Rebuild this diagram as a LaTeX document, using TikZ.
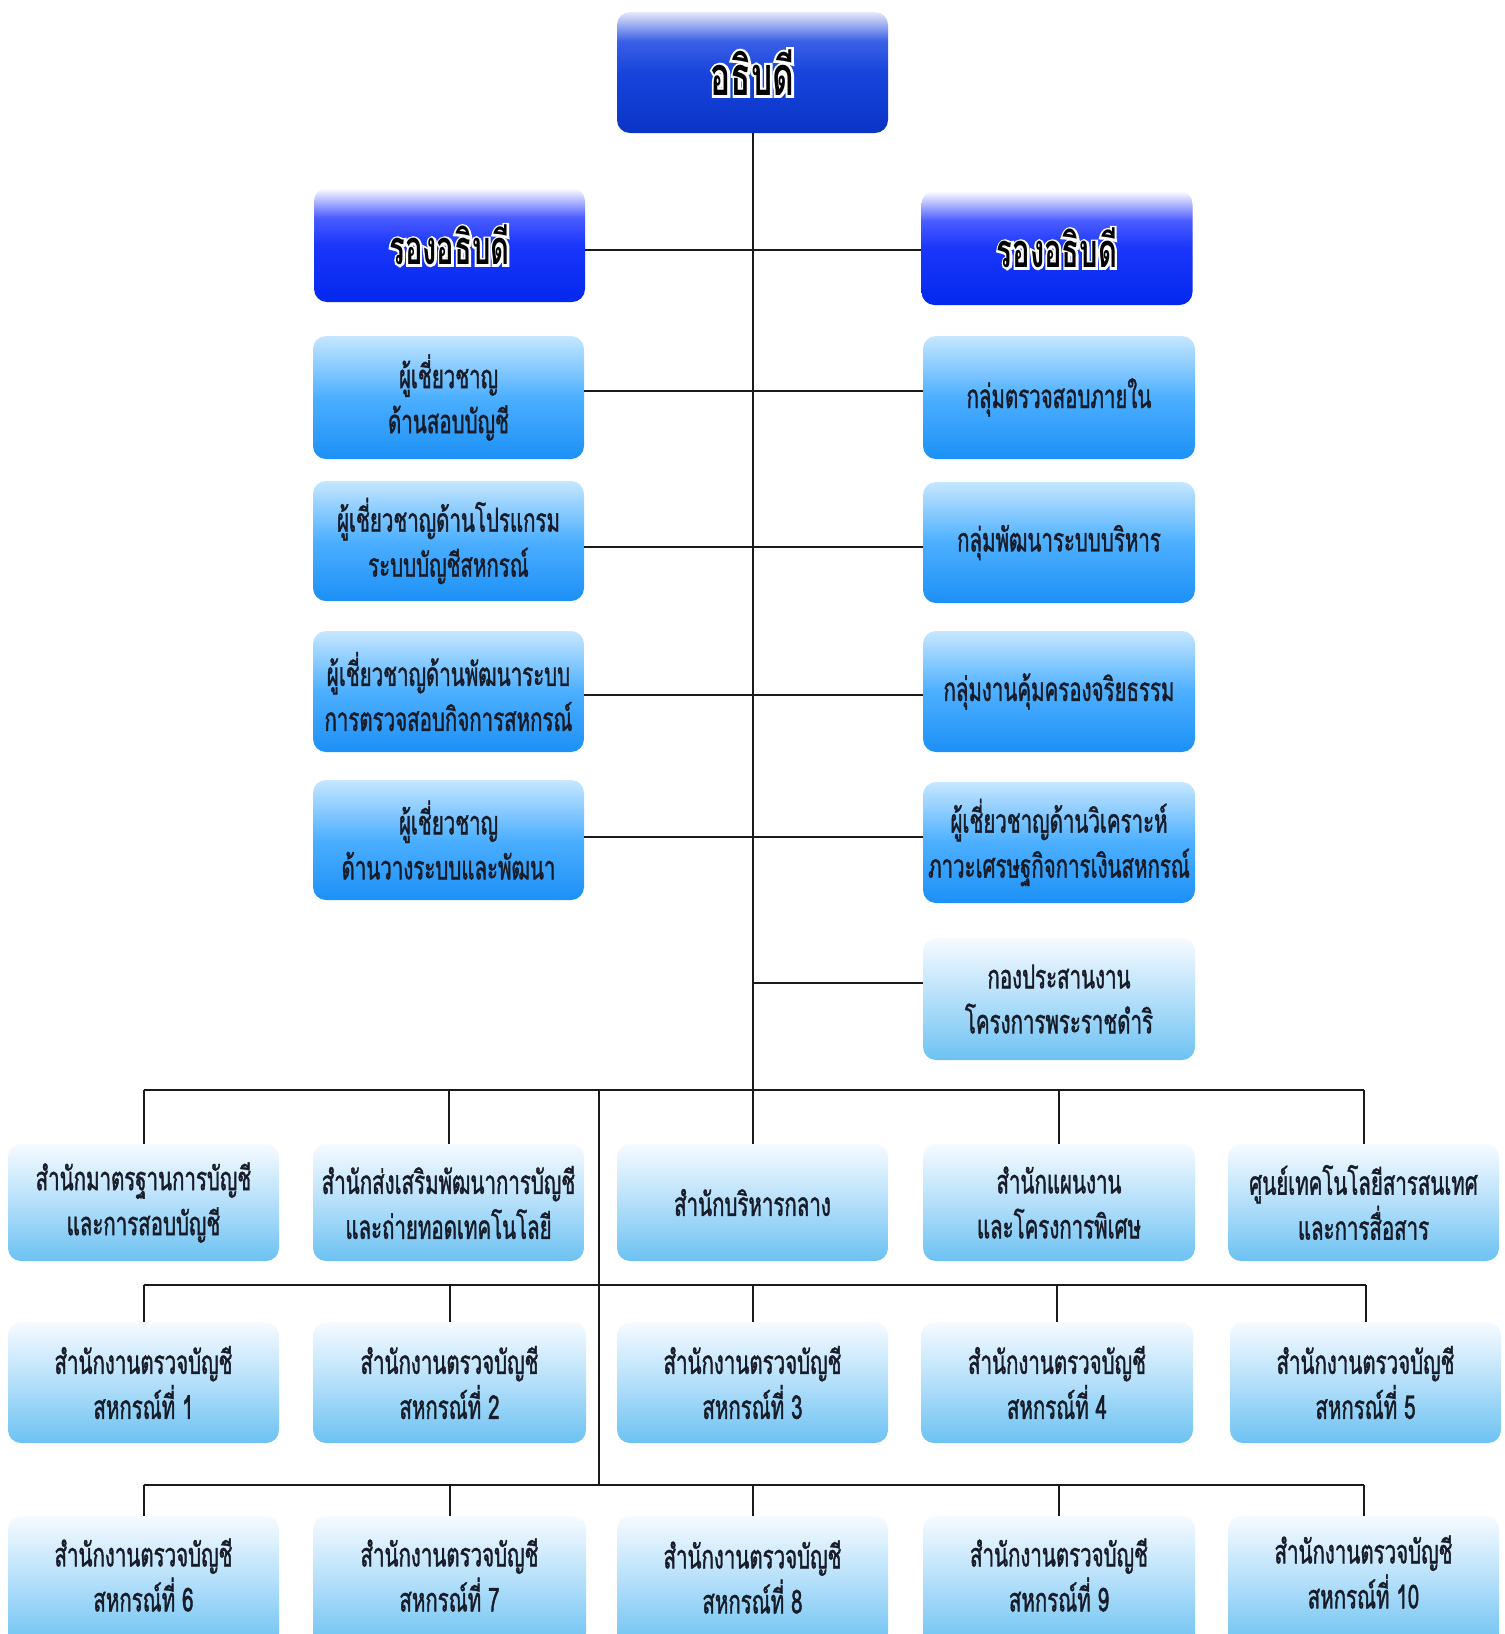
\documentclass[tikz,border=0pt]{standalone}
\usepackage{fontspec}
\newfontfamily\thai[Script=Thai,FakeStretch=0.62,FakeBold=1.2]{Loma}
\newfontfamily\thaihead[Script=Thai,FakeStretch=0.62]{Loma}
\usetikzlibrary{calc}

\definecolor{tTop}{HTML}{E6EAFA}
\definecolor{tHi}{HTML}{3A60E6}
\definecolor{tMid}{HTML}{1844DC}
\definecolor{tBot}{HTML}{0A34C6}
\definecolor{vTop}{HTML}{FFFFFF}
\definecolor{vHi}{HTML}{4A5CFF}
\definecolor{vMid}{HTML}{1A36FA}
\definecolor{vBot}{HTML}{0428EE}
\definecolor{mTop}{HTML}{C6E7FF}
\definecolor{mMid}{HTML}{4CAFFF}
\definecolor{mBot}{HTML}{1C90F6}
\definecolor{lTop}{HTML}{F6FBFF}
\definecolor{lMid}{HTML}{B4DFFA}
\definecolor{lBot}{HTML}{6CC2F2}
\definecolor{ink}{HTML}{181C28}
\definecolor{wire}{HTML}{1A1A1A}

\pgfdeclareverticalshading{shTop}{100bp}{color(0bp)=(tBot);color(25bp)=(tBot);color(50bp)=(tMid);color(63bp)=(tHi);color(75bp)=(tTop);color(100bp)=(tTop)}
\pgfdeclareverticalshading{shVP}{100bp}{color(0bp)=(vBot);color(25bp)=(vBot);color(50bp)=(vMid);color(62bp)=(vHi);color(75bp)=(vTop);color(100bp)=(vTop)}
\pgfdeclareverticalshading{shMid}{100bp}{color(0bp)=(mBot);color(25bp)=(mBot);color(50bp)=(mMid);color(75bp)=(mTop);color(100bp)=(mTop)}
\pgfdeclareverticalshading{shLight}{100bp}{color(0bp)=(lBot);color(25bp)=(lBot);color(50bp)=(lMid);color(75bp)=(lTop);color(100bp)=(lTop)}

% white outline drawn as one emboldened white copy under the black text
\newcommand\halo[1]{%
  \rlap{{\color{white}\addfontfeature{FakeBold=9}#1}}{\color{black}#1}}

\tikzset{
  orgbox/.style={rectangle, rounded corners=13pt, inner sep=0pt, align=center,
    minimum width=271pt, text=ink,
    font=\thai\fontsize{33pt}{45pt}\selectfont},
  chief/.style={orgbox, shade, shading=shTop, minimum height=121pt,
    font=\thaihead\bfseries\fontsize{54pt}{60pt}\selectfont, text=black},
  deputy/.style={orgbox, shade, shading=shVP, minimum height=114pt,
    font=\thaihead\bfseries\fontsize{47pt}{54pt}\selectfont, text=black},
  midbox/.style={orgbox, shade, shading=shMid, minimum height=121pt},
  lightbox/.style={orgbox, shade, shading=shLight, minimum height=119pt},
  wire/.style={draw=wire, line width=2pt}
}

\begin{document}
\begin{tikzpicture}[x=1pt,y=-1pt]
\clip (0,0) rectangle (1505,1634);
\fill[white] (0,0) rectangle (1505,1634);

% top level
\node[chief] (top) at (752.5,72.5) {\halo{อธิบดี}};
\node[deputy] (vpL) at (449.5,245) {\halo{รองอธิบดี}};
\node[deputy] (vpR) at (1057,248) {\halo{รองอธิบดี}};

% left column
\node[midbox, minimum height=123pt] (L1) at (448.5,397.5) {ผู้เชี่ยวชาญ\\ด้านสอบบัญชี};
\node[midbox, minimum height=120pt] (L2) at (448.5,541) {ผู้เชี่ยวชาญด้านโปรแกรม\\ระบบบัญชีสหกรณ์};
\node[midbox] (L3) at (448.5,691.5) {ผู้เชี่ยวชาญด้านพัฒนาระบบ\\การตรวจสอบกิจการสหกรณ์};
\node[midbox, minimum height=120pt] (L4) at (448.5,840) {ผู้เชี่ยวชาญ\\ด้านวางระบบและพัฒนา};

% right column
\node[midbox, minimum height=123pt, minimum width=272pt] (R1) at (1059,397.5) {กลุ่มตรวจสอบภายใน};
\node[midbox, minimum width=272pt] (R2) at (1059,542.5) {กลุ่มพัฒนาระบบบริหาร};
\node[midbox, minimum width=272pt] (R3) at (1059,691.5) {กลุ่มงานคุ้มครองจริยธรรม};
\node[midbox, minimum width=272pt] (R4) at (1059,842.5) {ผู้เชี่ยวชาญด้านวิเคราะห์\\ภาวะเศรษฐกิจการเงินสหกรณ์};
\node[lightbox, minimum width=272pt, minimum height=122pt] (R5) at (1059,999) {กองประสานงาน\\โครงการพระราชดำริ};

% row A
\node[lightbox, minimum height=117pt] (A1) at (143.5,1202.5) {สำนักมาตรฐานการบัญชี\\และการสอบบัญชี};
\node[lightbox, minimum height=117pt] (A2) at (448.5,1202.5) {สำนักส่งเสริมพัฒนาการบัญชี\\และถ่ายทอดเทคโนโลยี};
\node[lightbox, minimum height=117pt] (A3) at (752.5,1202.5) {สำนักบริหารกลาง};
\node[lightbox, minimum height=117pt, minimum width=272pt] (A4) at (1059,1202.5) {สำนักแผนงาน\\และโครงการพิเศษ};
\node[lightbox, minimum height=117pt] (A5) at (1363.5,1202.5) {ศูนย์เทคโนโลยีสารสนเทศ\\และการสื่อสาร};

% row B
\node[lightbox, minimum height=121pt] (B1) at (143.5,1382.5) {สำนักงานตรวจบัญชี\\สหกรณ์ที่ 1};
\node[lightbox, minimum height=121pt, minimum width=273pt] (B2) at (449.5,1382.5) {สำนักงานตรวจบัญชี\\สหกรณ์ที่ 2};
\node[lightbox, minimum height=121pt] (B3) at (752.5,1382.5) {สำนักงานตรวจบัญชี\\สหกรณ์ที่ 3};
\node[lightbox, minimum height=121pt, minimum width=272pt] (B4) at (1057,1382.5) {สำนักงานตรวจบัญชี\\สหกรณ์ที่ 4};
\node[lightbox, minimum height=121pt] (B5) at (1365.5,1382.5) {สำนักงานตรวจบัญชี\\สหกรณ์ที่ 5};

% row C
\node[lightbox, minimum height=130pt] (C1) at (143.5,1581) {};
\node[lightbox, minimum height=130pt, minimum width=273pt] (C2) at (449.5,1581) {};
\node[lightbox, minimum height=130pt] (C3) at (752.5,1581) {};
\node[lightbox, minimum height=130pt, minimum width=272pt] (C4) at (1059,1581) {};
\node[lightbox, minimum height=130pt] (C5) at (1363.5,1581) {};
\node[orgbox, anchor=center] (C1t) at (143.5,1575) {สำนักงานตรวจบัญชี\\สหกรณ์ที่ 6};
\node[orgbox, anchor=center] (C2t) at (449.5,1575) {สำนักงานตรวจบัญชี\\สหกรณ์ที่ 7};
\node[orgbox, anchor=center] (C3t) at (752.5,1577) {สำนักงานตรวจบัญชี\\สหกรณ์ที่ 8};
\node[orgbox, anchor=center] (C4t) at (1059,1575) {สำนักงานตรวจบัญชี\\สหกรณ์ที่ 9};
\node[orgbox, anchor=center] (C5t) at (1363.5,1572) {สำนักงานตรวจบัญชี\\สหกรณ์ที่ 10};

% junction coordinates
\coordinate (jVP) at (752.5,250);
\coordinate (j1) at (752.5,391);
\coordinate (j2) at (752.5,547);
\coordinate (j3) at (752.5,695);
\coordinate (j4) at (752.5,837);
\coordinate (j5) at (752.5,983);
\coordinate (bus1) at (752.5,1090);
\coordinate (bus2) at (752.5,1285);
\coordinate (bus3) at (752.5,1485);
\coordinate (s1) at (599,1090);
\coordinate (s3) at (599,1485);

% trunk
\draw[wire] (top.south) -- (A3.north);
\draw[wire] (vpL.east |- jVP) -- (vpR.west |- jVP);
\draw[wire] (L1.east |- j1) -- (R1.west |- j1);
\draw[wire] (L2.east |- j2) -- (R2.west |- j2);
\draw[wire] (L3.east |- j3) -- (R3.west |- j3);
\draw[wire] (L4.east |- j4) -- (R4.west |- j4);
\draw[wire] (j5) -- (R5.west |- j5);

% bus 1
\draw[wire] (A1.north |- bus1) -- (A5.north |- bus1);
\foreach \n in {A1,A2,A4,A5} \draw[wire] (\n.north |- bus1) -- (\n.north);
% secondary trunk
\draw[wire] (s1) -- (s3);
% bus 2
\draw[wire] (B1.north |- bus2) -- (B5.north |- bus2);
\foreach \n in {B1,B2,B3,B4,B5} \draw[wire] (\n.north |- bus2) -- (\n.north);
% bus 3
\draw[wire] (C1.north |- bus3) -- (C5.north |- bus3);
\foreach \n in {C1,C2,C3,C4,C5} \draw[wire] (\n.north |- bus3) -- (\n.north);
\end{tikzpicture}
\end{document}
